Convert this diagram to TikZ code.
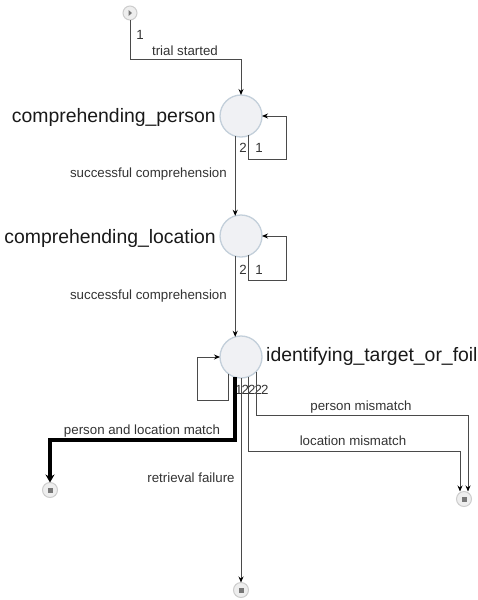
\documentclass[tikz,border=0pt]{standalone}
\usepackage{fontspec}
\setmainfont{Liberation Sans}
\usetikzlibrary{arrows.meta}
\definecolor{edgec}{HTML}{4A4A4A}
\definecolor{statefill}{HTML}{F0F1F4}
\definecolor{stateborder}{HTML}{C3CFDA}
\definecolor{termfill}{HTML}{EEEEEE}
\definecolor{termborder}{HTML}{CDCDCD}
\definecolor{termmark}{HTML}{777777}
\definecolor{lblc}{HTML}{333333}
\begin{document}
\begin{tikzpicture}[x=1pt,y=-1pt,
  state/.style={circle,minimum size=42pt,inner sep=0pt,outer sep=0pt,draw=stateborder,line width=1.3pt,fill=statefill},
  startnode/.style={circle,minimum size=14pt,inner sep=0pt,outer sep=0pt,draw=termborder,line width=1pt,fill=termfill,
    path picture={\fill[termmark] ([xshift=-1.5pt,yshift=3pt]path picture bounding box.center) -- ++(3.5pt,-3pt) -- ++(-3.5pt,-3pt) -- cycle;}},
  endnode/.style={circle,minimum size=15pt,inner sep=0pt,outer sep=0pt,draw=termborder,line width=1pt,fill=termfill,
    path picture={\fill[termmark] ([xshift=-2.5pt,yshift=-2.5pt]path picture bounding box.center) rectangle ++(5pt,5pt);}},
  edge/.style={draw=edgec,line width=0.9pt,-{Stealth[length=6pt,width=5pt,color=black]}},
  thickedge/.style={draw=black,line width=4pt,-{Stealth[length=8pt,width=9pt]}},
  big/.style={font=\fontsize{19.4}{23}\selectfont,inner sep=0pt,text=black!90},
  lbl/.style={font=\fontsize{13.3}{15}\selectfont,inner sep=0pt,text=lblc}]
\useasboundingbox (0,0) rectangle (477,600);

% nodes
\node[startnode] (S) at (130,13) {};
\node[state] (P) at (241,116) {};
\node[state] (L) at (241,236) {};
\node[state] (I) at (241,357) {};
\node[endnode] (E1) at (50,490) {};
\node[endnode] (E2) at (464,499) {};
\node[endnode] (E3) at (241,590) {};

% state names
\node[big,anchor=base east] (tP) at (216,122.5) {comprehending\_person};
\node[big,anchor=base east] (tL) at (216,243) {comprehending\_location};
\node[big,anchor=base west] (tI) at (266,361) {identifying\_target\_or\_foil};

% edge labels
\node[lbl] (l1) at (140,35) {1};
\node[lbl] (l2) at (185,51) {trial started};
\node[lbl] (l3) at (243,148) {2};
\node[lbl] (l4) at (259,148) {1};
\node[lbl,anchor=east] (l5) at (227,174) {successful comprehension};
\node[lbl] (l6) at (243,270) {2};
\node[lbl] (l7) at (259,270) {1};
\node[lbl,anchor=east] (l8) at (227,296) {successful comprehension};
\node[lbl,anchor=west] (l9) at (235,390) {1};
\node[lbl,anchor=west] (l10) at (241.5,390) {2};
\node[lbl,anchor=west] (l11) at (248,390) {2};
\node[lbl,anchor=west] (l12) at (254.5,390) {2};
\node[lbl,anchor=west] (l13) at (261,390) {2};
\node[lbl] (l14) at (142,431) {person and location match};
\node[lbl] (l15) at (191,478) {retrieval failure};
\node[lbl] (l16) at (361,407) {person mismatch};
\node[lbl] (l17) at (353,441) {location mismatch};

% connectors
\draw[edge] (S.south) -- ++(0,39) -| (P.north);
\draw[edge] (P.292) -- ++(0,23.5) -| ([xshift=24pt]P.east) -- (P.east);
\draw[edge] (P.254) -- (L.106);
\draw[edge] (L.292) -- ++(0,24.5) -| ([xshift=24pt]L.east) -- (L.east);
\draw[edge] (L.254) -- (I.106);
\draw[edge] (I.232) -- ++(0,26.5) -| ([xshift=-23pt]I.west) -- (I.west);
\draw[edge] (I.south) -- (E3.north);
\draw[edge] (I.290) -- ++(0,75.2) -| ([xshift=-4pt]E2.north);
\draw[edge] (I.316) -- ++(0,44.3) -| ([xshift=4pt]E2.north);
\draw[thickedge] (I.254) -- ++(0,62.8) -| (E1.north);
\end{tikzpicture}
\end{document}
